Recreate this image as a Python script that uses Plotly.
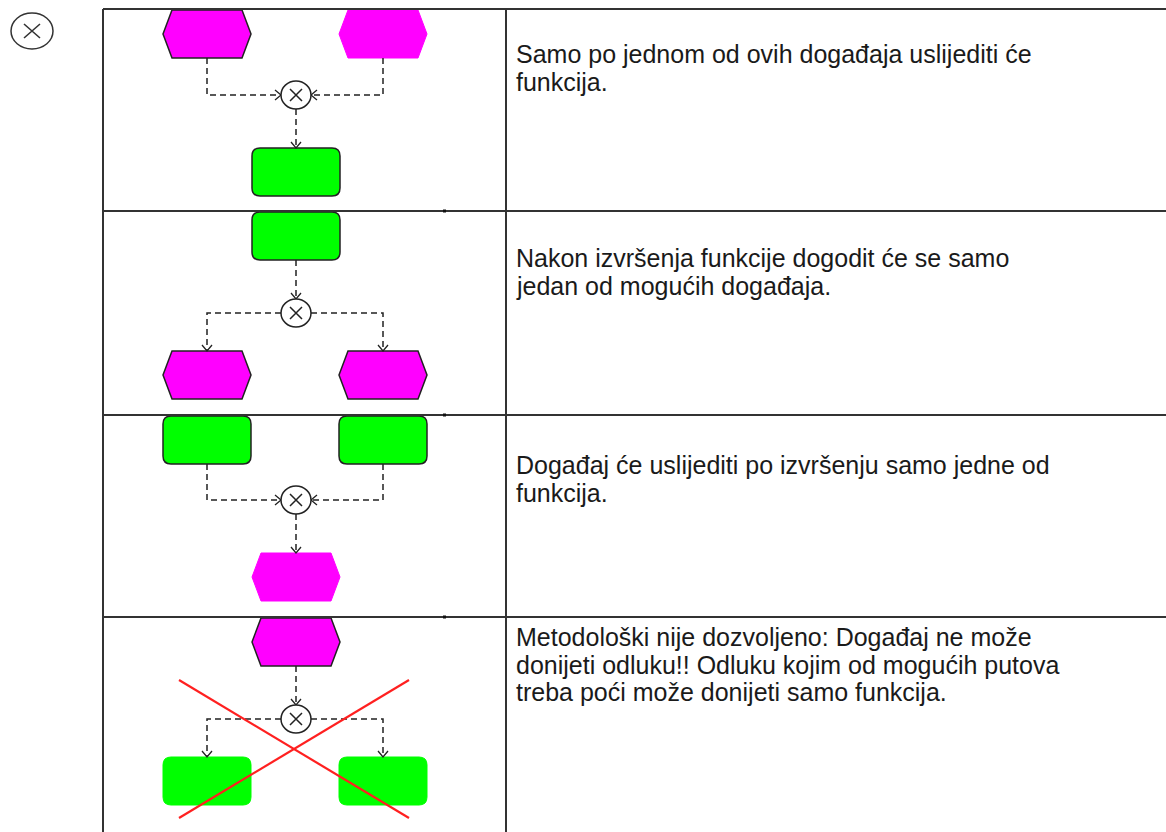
import plotly.graph_objects as go

W, H = 1166, 832

# ---- table layout ----
row_bounds = [9, 211, 415, 617, 832]
col_bounds = [103, 506, 1166]

# ---- right-hand column text ----
row_texts = [
    ["Samo po jednom od ovih događaja uslijediti će", "funkcija."],
    ["Nakon izvršenja funkcije dogodit će se samo", "jedan od mogućih događaja."],
    ["Događaj će uslijediti po izvršenju samo jedne od", "funkcija."],
    ["Metodološki nije dozvoljeno: Događaj ne može",
     "donijeti odluku!! Odluku kojim od mogućih putova",
     "treba poći može donijeti samo funkcija."],
]
text_line_y = [[54, 81.5], [258, 285.5], [465, 492.5], [637, 664.5, 692]]
text_x = 514

# ---- diagram nodes: (center x, center y, outlined) ----
events = [(207, 34, True), (383, 34, False), (207, 375, True), (383, 375, True),
          (296, 577, False), (296, 642, True)]
functions = [(296, 172, True), (296, 236, True), (207, 440, True), (383, 440, True),
             (207, 781, False), (383, 781, False)]
xor_nodes = [(296, 95), (296, 313), (296, 500), (296, 719)]

# ---- dashed connectors (last point carries the arrow) ----
connectors = [
    [(207, 58), (207, 95), (281, 95)],
    [(383, 58), (383, 95), (311, 95)],
    [(296, 109), (296, 148)],
    [(296, 260), (296, 299)],
    [(281, 313), (207, 313), (207, 351)],
    [(311, 313), (383, 313), (383, 351)],
    [(207, 464), (207, 500), (281, 500)],
    [(383, 464), (383, 500), (311, 500)],
    [(296, 514), (296, 553)],
    [(296, 666), (296, 705)],
    [(281, 719), (207, 719), (207, 757)],
    [(311, 719), (383, 719), (383, 757)],
]

# ---- red "not allowed" cross ----
cross_lines = [((179, 680), (409, 818)), ((409, 680), (179, 818))]

EVENT_COLOR = "#FF00FF"
FUNC_COLOR = "#00FF00"
LINE_COLOR = "#222222"

shapes = []


def hex_path(cx, cy, hw=44, hh=24, d=9):
    pts = [(cx - hw, cy), (cx - hw + d, cy - hh), (cx + hw - d, cy - hh),
           (cx + hw, cy), (cx + hw - d, cy + hh), (cx - hw + d, cy + hh)]
    return "M " + " L ".join(f"{x},{y}" for x, y in pts) + " Z"


def rrect_path(cx, cy, hw=44, hh=24, r=8):
    x0, x1, y0, y1 = cx - hw, cx + hw, cy - hh, cy + hh
    return (f"M {x0+r},{y0} L {x1-r},{y0} Q {x1},{y0} {x1},{y0+r} "
            f"L {x1},{y1-r} Q {x1},{y1} {x1-r},{y1} L {x0+r},{y1} "
            f"Q {x0},{y1} {x0},{y1-r} L {x0},{y0+r} Q {x0},{y0} {x0+r},{y0} Z")


for cx, cy, outl in events:
    shapes.append(dict(type="path", path=hex_path(cx, cy), fillcolor=EVENT_COLOR,
                       line=dict(color=LINE_COLOR if outl else EVENT_COLOR, width=1.5 if outl else 1)))
for cx, cy, outl in functions:
    shapes.append(dict(type="path", path=rrect_path(cx, cy), fillcolor=FUNC_COLOR,
                       line=dict(color=LINE_COLOR if outl else FUNC_COLOR, width=1.5 if outl else 1)))

for pts in connectors:
    p = "M " + " L ".join(f"{x},{y}" for x, y in pts)
    shapes.append(dict(type="path", path=p, fillcolor="rgba(0,0,0,0)",
                       line=dict(color=LINE_COLOR, width=1.5, dash="6px,4px")))
    (xa, ya), (xb, yb) = pts[-2], pts[-1]
    dx = (xb > xa) - (xb < xa)
    dy = (yb > ya) - (yb < ya)
    a, b = 6, 5
    if dx != 0:
        head = f"M {xb - dx*a},{yb - b} L {xb},{yb} L {xb - dx*a},{yb + b}"
    else:
        head = f"M {xb - b},{yb - dy*a} L {xb},{yb} L {xb + b},{yb - dy*a}"
    shapes.append(dict(type="path", path=head, fillcolor="rgba(0,0,0,0)",
                       line=dict(color=LINE_COLOR, width=1.3)))

for cx, cy in xor_nodes:
    shapes.append(dict(type="circle", x0=cx - 15, x1=cx + 15, y0=cy - 14, y1=cy + 14,
                       fillcolor="white", line=dict(color=LINE_COLOR, width=1.5)))
    shapes.append(dict(type="path", path=f"M {cx-6},{cy-6} L {cx+6},{cy+6} M {cx+6},{cy-6} L {cx-6},{cy+6}",
                       line=dict(color=LINE_COLOR, width=1.5)))

# legend symbol top-left
sx, sy = 32, 31
shapes.append(dict(type="circle", x0=sx - 21, x1=sx + 21, y0=sy - 18, y1=sy + 18,
                   fillcolor="white", line=dict(color="#333333", width=1.5)))
shapes.append(dict(type="path", path=f"M {sx-8},{sy-7} L {sx+8},{sy+7} M {sx+8},{sy-7} L {sx-8},{sy+7}",
                   line=dict(color="#333333", width=1.6)))

# table lines
for y in row_bounds[:-1]:
    shapes.append(dict(type="line", x0=col_bounds[0], x1=col_bounds[-1], y0=y, y1=y,
                       line=dict(color="#333333", width=2)))
for x in col_bounds[:-1]:
    shapes.append(dict(type="line", x0=x, x1=x, y0=row_bounds[0], y1=row_bounds[-1],
                       line=dict(color="#333333", width=2)))

# small marks on row lines
for y in row_bounds[1:-1]:
    shapes.append(dict(type="rect", x0=443, x1=446, y0=y - 1.5, y1=y + 1.5,
                       fillcolor="#111111", line=dict(width=0)))

# red cross
for (x0, y0), (x1, y1) in cross_lines:
    shapes.append(dict(type="line", x0=x0, y0=y0, x1=x1, y1=y1,
                       line=dict(color="#FF2020", width=2.2)))

annotations = []
for lines, ys in zip(row_texts, text_line_y):
    for t, y in zip(lines, ys):
        annotations.append(dict(x=text_x, y=y, xref="x", yref="y", text=t, showarrow=False,
                                xanchor="left", yanchor="middle",
                                font=dict(family="Liberation Sans, Arial, sans-serif", size=25, color="#1a1a1a")))

fig = go.Figure()
fig.add_trace(go.Scatter(x=[0], y=[0], mode="markers", marker=dict(opacity=0), hoverinfo="skip", showlegend=False))
fig.update_layout(
    width=W, height=H, margin=dict(l=0, r=0, t=0, b=0),
    paper_bgcolor="white", plot_bgcolor="white",
    xaxis=dict(range=[0, W], visible=False, fixedrange=True),
    yaxis=dict(range=[H, 0], visible=False, fixedrange=True),
    shapes=shapes, annotations=annotations, showlegend=False,
)
fig.write_html("out.html", config=dict(displayModeBar=False),
               post_script="document.body.style.margin='0';")
